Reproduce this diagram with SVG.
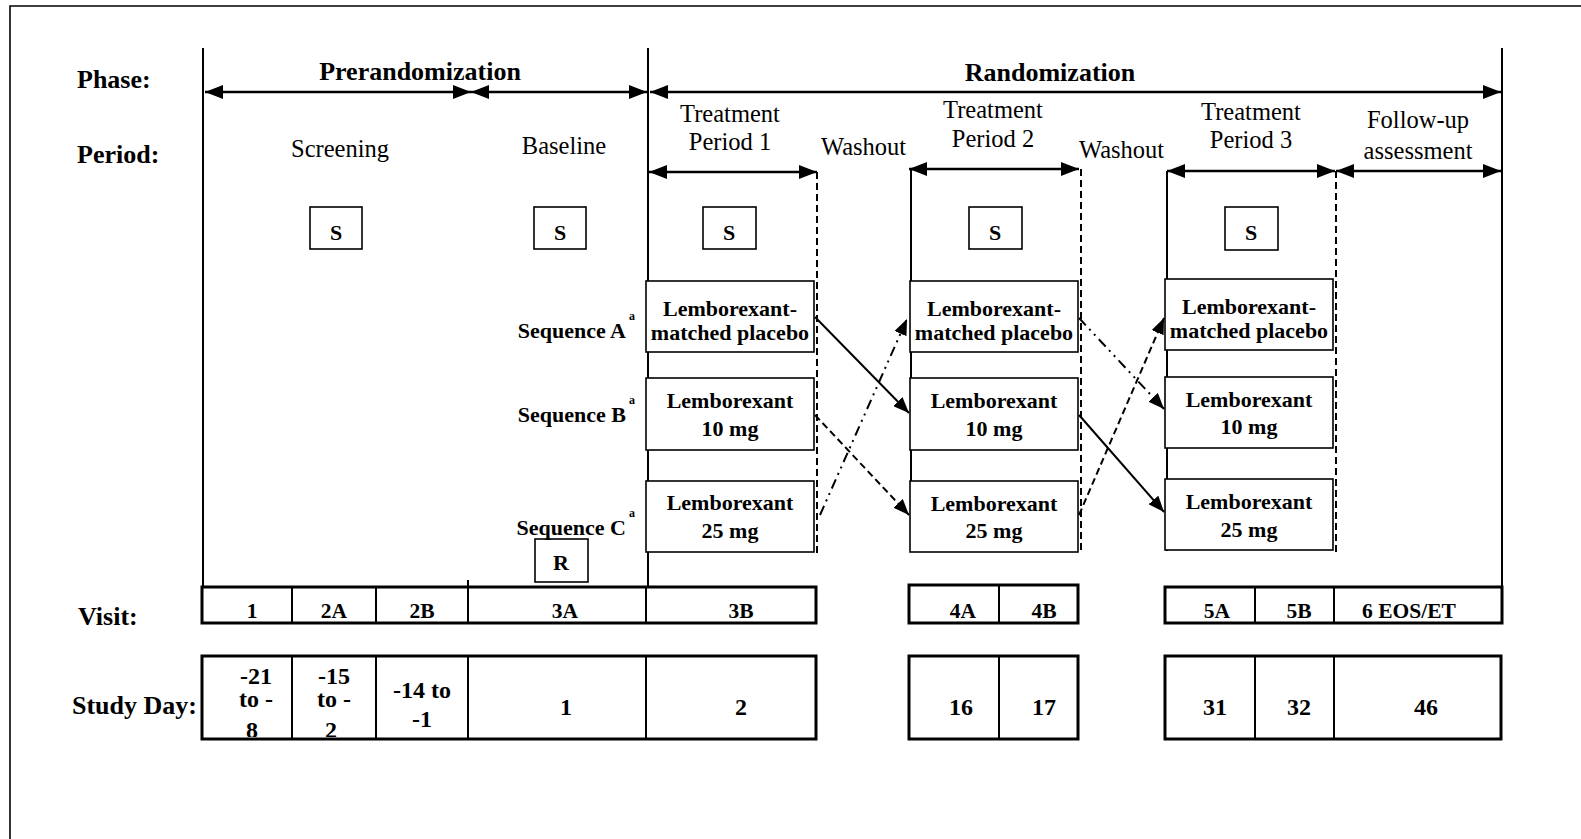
<svg xmlns="http://www.w3.org/2000/svg" width="1581" height="839" viewBox="0 0 1581 839">
<style>
text{font-family:"Liberation Serif","Times New Roman",serif;fill:#000}
.b{font-weight:bold}
.lbl{font-size:26px;font-weight:bold}
.per{font-size:24.5px}
.box{fill:#fff;stroke:#000;stroke-width:1.6}
.bt{font-size:22px;font-weight:bold;text-anchor:middle}
.seq{font-size:22px;font-weight:bold;text-anchor:end}
.sup{font-size:12px;font-weight:bold}
.arr{stroke:#000;stroke-width:2.6;fill:none}
.vl{stroke:#000;stroke-width:2;fill:none}
.dl{stroke:#000;stroke-width:2;stroke-dasharray:7 4;fill:none}
.cn{stroke:#000;stroke-width:2;fill:none}
.tbl{fill:#fff;stroke:#000;stroke-width:3}
.cell{stroke:#000;stroke-width:2}
.vt{font-size:21.5px;font-weight:bold;text-anchor:middle}
.sd{font-size:24px;font-weight:bold;text-anchor:middle}
</style>
<defs>
<marker id="ah" viewBox="0 0 18 14" refX="18" refY="7" markerWidth="18" markerHeight="14" markerUnits="userSpaceOnUse" orient="auto-start-reverse"><path d="M0,0 L18,7 L0,14 z" fill="#000"/></marker>
<marker id="as" viewBox="0 0 16 13" refX="16" refY="6.5" markerWidth="16" markerHeight="13" markerUnits="userSpaceOnUse" orient="auto"><path d="M0,0 L16,6.5 L0,13 z" fill="#000"/></marker>
<clipPath id="sdclip"><rect x="200" y="656" width="1310" height="81"/></clipPath>
</defs>
<rect width="1581" height="839" fill="#fff"/>
<!-- frame -->
<path d="M10,839 V6 H1581" fill="none" stroke="#000" stroke-width="1.6"/>

<!-- row labels -->
<g id="row-labels">
<text class="lbl" x="77" y="88">Phase:</text>
<text class="lbl" x="77" y="163">Period:</text>
<text class="lbl" x="78" y="625" font-size="24">Visit:</text>
<text class="lbl" x="72" y="714" font-size="24">Study Day:</text>
</g>

<!-- frame lines -->
<g id="frame-lines">
<line class="vl" x1="203" y1="48" x2="203" y2="588"/>
<line class="vl" x1="648" y1="48" x2="648" y2="588"/>
<line class="vl" x1="1502" y1="48" x2="1502" y2="623"/>
<line class="vl" x1="911" y1="169" x2="911" y2="552"/>
<line class="vl" x1="1167" y1="171" x2="1167" y2="551"/>
<line class="dl" x1="817" y1="172" x2="817" y2="553"/>
<line class="dl" x1="1081" y1="169" x2="1081" y2="553"/>
<line class="dl" x1="1336" y1="171" x2="1336" y2="552"/>
</g>

<!-- phase / period spans -->
<g id="spans">
<line class="arr" x1="205" y1="92" x2="471" y2="92" marker-start="url(#ah)" marker-end="url(#ah)"/>
<line class="arr" x1="471" y1="92" x2="647" y2="92" marker-start="url(#ah)" marker-end="url(#ah)"/>
<line class="arr" x1="650" y1="92" x2="1501" y2="92" marker-start="url(#ah)" marker-end="url(#ah)"/>
<line class="arr" x1="649" y1="172" x2="817" y2="172" marker-start="url(#ah)" marker-end="url(#ah)"/>
<line class="arr" x1="909" y1="169" x2="1079" y2="169" marker-start="url(#ah)" marker-end="url(#ah)"/>
<line class="arr" x1="1167" y1="171" x2="1335" y2="171" marker-start="url(#ah)" marker-end="url(#ah)"/>
<line class="arr" x1="1336" y1="171" x2="1501" y2="171" marker-start="url(#ah)" marker-end="url(#ah)"/>
</g>

<g id="phase-titles">
<text class="lbl" x="420" y="80" text-anchor="middle">Prerandomization</text>
<text class="lbl" x="1050" y="81" text-anchor="middle">Randomization</text>
</g>

<g id="period-titles">
<text class="per" x="340" y="157" text-anchor="middle">Screening</text>
<text class="per" x="564" y="154" text-anchor="middle">Baseline</text>
<text class="per" x="730" y="122" text-anchor="middle">Treatment</text>
<text class="per" x="730" y="150" text-anchor="middle">Period 1</text>
<text class="per" x="821" y="155">Washout</text>
<text class="per" x="993" y="118" text-anchor="middle">Treatment</text>
<text class="per" x="993" y="147" text-anchor="middle">Period 2</text>
<text class="per" x="1079" y="158">Washout</text>
<text class="per" x="1251" y="120" text-anchor="middle">Treatment</text>
<text class="per" x="1251" y="148" text-anchor="middle">Period 3</text>
<text class="per" x="1418" y="128" text-anchor="middle">Follow-up</text>
<text class="per" x="1418" y="159" text-anchor="middle">assessment</text>
</g>

<!-- S boxes -->
<g id="s-screening"><rect class="box" x="310" y="207" width="52" height="42"/><text class="bt" x="336" y="240" font-size="23">S</text></g>
<g id="s-baseline"><rect class="box" x="534" y="207" width="52" height="42"/><text class="bt" x="560" y="240" font-size="23">S</text></g>
<g id="s-tp1"><rect class="box" x="703" y="207" width="53" height="42"/><text class="bt" x="729" y="240" font-size="23">S</text></g>
<g id="s-tp2"><rect class="box" x="969" y="207" width="53" height="42"/><text class="bt" x="995" y="240" font-size="23">S</text></g>
<g id="s-tp3"><rect class="box" x="1225" y="207" width="53" height="43"/><text class="bt" x="1251" y="240" font-size="23">S</text></g>
<g id="r-box"><rect class="box" x="535" y="539" width="53" height="43"/><text class="bt" x="561" y="570">R</text></g>

<!-- sequence labels -->
<g id="sequence-labels">
<text class="seq" x="626" y="338">Sequence A</text><text class="sup" x="629" y="320">a</text>
<text class="seq" x="626" y="422">Sequence B</text><text class="sup" x="629" y="404">a</text>
<text class="seq" x="626" y="535">Sequence C</text><text class="sup" x="629" y="517">a</text>
</g>

<!-- treatment boxes -->
<g id="tp1-placebo"><rect class="box" x="646" y="281" width="168" height="71"/><text class="bt" x="730" y="316">Lemborexant-</text><text class="bt" x="730" y="340">matched placebo</text></g>
<g id="tp1-10mg"><rect class="box" x="646" y="378" width="168" height="72"/><text class="bt" x="730" y="408">Lemborexant</text><text class="bt" x="730" y="436">10 mg</text></g>
<g id="tp1-25mg"><rect class="box" x="646" y="481" width="168" height="71"/><text class="bt" x="730" y="510">Lemborexant</text><text class="bt" x="730" y="538">25 mg</text></g>

<g id="tp2-placebo"><rect class="box" x="910" y="281" width="168" height="71"/><text class="bt" x="994" y="316">Lemborexant-</text><text class="bt" x="994" y="340">matched placebo</text></g>
<g id="tp2-10mg"><rect class="box" x="910" y="378" width="168" height="72"/><text class="bt" x="994" y="408">Lemborexant</text><text class="bt" x="994" y="436">10 mg</text></g>
<g id="tp2-25mg"><rect class="box" x="910" y="481" width="168" height="71"/><text class="bt" x="994" y="511">Lemborexant</text><text class="bt" x="994" y="538">25 mg</text></g>

<g id="tp3-placebo"><rect class="box" x="1165" y="279" width="168" height="71"/><text class="bt" x="1249" y="314">Lemborexant-</text><text class="bt" x="1249" y="338">matched placebo</text></g>
<g id="tp3-10mg"><rect class="box" x="1165" y="377" width="168" height="71"/><text class="bt" x="1249" y="407">Lemborexant</text><text class="bt" x="1249" y="434">10 mg</text></g>
<g id="tp3-25mg"><rect class="box" x="1165" y="479" width="168" height="71"/><text class="bt" x="1249" y="509">Lemborexant</text><text class="bt" x="1249" y="537">25 mg</text></g>

<!-- crossover connectors -->
<g id="connectors">
<line class="cn" x1="815" y1="317" x2="909" y2="413" marker-end="url(#as)"/>
<line class="cn" x1="815" y1="415" x2="909" y2="515" stroke-width="2.4" stroke-dasharray="7 4" marker-end="url(#as)"/>
<line class="cn" x1="820" y1="515" x2="907" y2="319" stroke-dasharray="10 5 2 5 2 5" marker-end="url(#as)"/>
<line class="cn" x1="1079" y1="318" x2="1164" y2="409" stroke-dasharray="10 5 2 5 2 5" marker-end="url(#as)"/>
<line class="cn" x1="1079" y1="415" x2="1164" y2="512" marker-end="url(#as)"/>
<line class="cn" x1="1079" y1="515" x2="1164" y2="318" stroke-width="2.4" stroke-dasharray="7 4" marker-end="url(#as)"/>
</g>

<!-- visit table -->
<g id="visit-table">
<rect class="tbl" x="202" y="587" width="614" height="36"/>
<line class="cell" x1="292" y1="587" x2="292" y2="623"/>
<line class="cell" x1="376" y1="587" x2="376" y2="623"/>
<line class="cell" x1="468" y1="580" x2="468" y2="623"/>
<line class="cell" x1="646" y1="587" x2="646" y2="623"/>
<text class="vt" x="252" y="618">1</text>
<text class="vt" x="334" y="618">2A</text>
<text class="vt" x="422" y="618">2B</text>
<text class="vt" x="565" y="618">3A</text>
<text class="vt" x="741" y="618">3B</text>
<rect class="tbl" x="909" y="585" width="169" height="38"/>
<line class="cell" x1="999" y1="585" x2="999" y2="623"/>
<text class="vt" x="963" y="618">4A</text>
<text class="vt" x="1044" y="618">4B</text>
<rect class="tbl" x="1165" y="587" width="337" height="36"/>
<line class="cell" x1="1255" y1="587" x2="1255" y2="623"/>
<line class="cell" x1="1334" y1="587" x2="1334" y2="623"/>
<text class="vt" x="1217" y="618">5A</text>
<text class="vt" x="1299" y="618">5B</text>
<text class="vt" x="1409" y="618">6 EOS/ET</text>
</g>

<!-- study day table -->
<g id="study-day-table">
<rect class="tbl" x="202" y="656" width="614" height="83"/>
<line class="cell" x1="292" y1="656" x2="292" y2="739"/>
<line class="cell" x1="376" y1="656" x2="376" y2="739"/>
<line class="cell" x1="468" y1="656" x2="468" y2="739"/>
<line class="cell" x1="646" y1="656" x2="646" y2="739"/>
<g clip-path="url(#sdclip)">
<text class="sd" x="256" y="684">-21</text>
<text class="sd" x="256" y="707">to -</text>
<text class="sd" x="252" y="738">8</text>
<text class="sd" x="334" y="684">-15</text>
<text class="sd" x="334" y="707">to -</text>
<text class="sd" x="331" y="738">2</text>
</g>
<text class="sd" x="422" y="698">-14 to</text>
<text class="sd" x="422" y="727">-1</text>
<text class="sd" x="566" y="715">1</text>
<text class="sd" x="741" y="715">2</text>
<rect class="tbl" x="909" y="656" width="169" height="83"/>
<line class="cell" x1="999" y1="656" x2="999" y2="739"/>
<text class="sd" x="961" y="715">16</text>
<text class="sd" x="1044" y="715">17</text>
<rect class="tbl" x="1165" y="656" width="336" height="83"/>
<line class="cell" x1="1255" y1="656" x2="1255" y2="739"/>
<line class="cell" x1="1334" y1="656" x2="1334" y2="739"/>
<text class="sd" x="1215" y="715">31</text>
<text class="sd" x="1299" y="715">32</text>
<text class="sd" x="1426" y="715">46</text>
</g>
</svg>
